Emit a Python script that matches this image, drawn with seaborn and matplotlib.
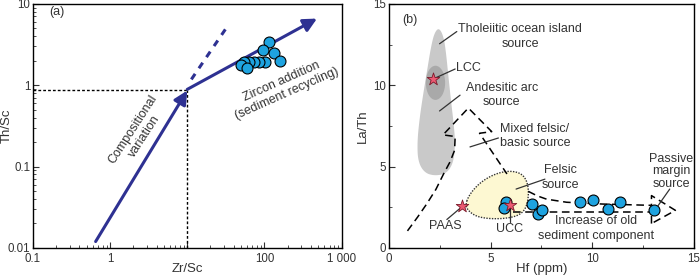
import numpy as np
import pandas as pd
import matplotlib
matplotlib.use('Agg')
import matplotlib.pyplot as plt
from matplotlib.patches import Polygon, Ellipse
from matplotlib.ticker import MultipleLocator, FixedLocator, FixedFormatter, LogLocator, NullFormatter
import seaborn as sns

# ---- panel (a): Th/Sc vs Zr/Sc ----
zr_sc = [114, 95, 132, 157, 103, 86, 74, 64, 55, 49, 59]
th_sc = [3.41, 2.72, 2.52, 1.97, 1.95, 1.95, 1.95, 1.95, 1.95, 1.76, 1.65]

comp_arrow_x = [0.65, 10.0]
comp_arrow_y = [0.012, 0.86]
zircon_arrow_x = [10.0, 480]
zircon_arrow_y = [0.89, 6.6]
dashed_branch_x = [11.3, 33.6]
dashed_branch_y = [1.18, 5.4]
guide_x = 10.0
guide_y = 0.87

# ---- panel (b): La/Th vs Hf ----
hf = [5.74, 5.66, 7.02, 7.31, 7.51, 9.39, 10.02, 10.79, 11.36, 13.03]
la_th = [2.83, 2.47, 2.71, 2.11, 2.35, 2.81, 2.96, 2.37, 2.83, 2.35]

ref_names = ['LCC', 'UCC', 'PAAS']
ref_hf = [2.15, 5.95, 3.61]
ref_la_th = [10.4, 2.67, 2.55]

# field outlines
tholeiitic_x = [2.45, 2.68, 2.8, 2.92, 3.05, 3.18, 3.25, 3.18, 2.85, 2.3, 1.75, 1.42, 1.38, 1.5, 1.68, 1.88, 2.05, 2.22]
tholeiitic_y = [13.55, 13.0, 12.0, 10.5, 9.0, 7.6, 6.5, 5.3, 4.6, 4.43, 4.6, 5.3, 6.5, 8.0, 9.5, 11.0, 12.3, 13.2]
lcc_field = (2.28, 10.15, 0.95, 2.1)  # centre x, centre y, width, height

felsic_x = [3.72, 3.95, 4.5, 5.2, 5.9, 6.5, 6.8, 6.88, 6.75, 6.4, 5.7, 4.8, 4.15]
felsic_y = [2.55, 3.3, 4.05, 4.55, 4.75, 4.6, 4.1, 3.3, 2.45, 2.0, 1.8, 1.8, 2.0]

mixed_x = [0.9, 1.4, 1.85, 2.3, 2.67, 3.0, 3.22, 3.25, 2.65, 3.9, 5.05, 4.45, 5.8]
mixed_y = [1.05, 1.9, 2.71, 3.6, 4.53, 5.3, 6.0, 6.85, 6.95, 8.6, 7.15, 7.05, 4.55]

upper_trend_x = [6.85, 7.3, 7.75, 8.74, 10.5, 12.92]
upper_trend_y = [3.48, 3.2, 3.0, 2.81, 2.7, 2.62]
lower_trend_x = [6.1, 12.92]
lower_trend_y = [2.2, 2.2]
passive_x = [12.92, 12.92, 14.1, 12.92]
passive_y = [1.5, 3.22, 2.31, 1.5]


def chaikin(xs, ys, n=3, closed=True):
    pts = np.column_stack([xs, ys]).astype(float)
    for _ in range(n):
        nxt = np.roll(pts, -1, axis=0) if closed else pts[1:]
        cur = pts if closed else pts[:-1]
        q = 0.75 * cur + 0.25 * nxt
        r = 0.25 * cur + 0.75 * nxt
        pts = np.empty((2 * len(q), 2))
        pts[0::2], pts[1::2] = q, r
    return pts


def main():
    sns.set_style('ticks')
    plt.rcParams['font.family'] = ['Liberation Sans', 'DejaVu Sans']
    plt.rcParams['font.size'] = 9
    plt.rcParams['text.color'] = '#333333'
    plt.rcParams['axes.labelcolor'] = '#333333'
    plt.rcParams['xtick.color'] = '#333333'
    plt.rcParams['ytick.color'] = '#333333'

    fig = plt.figure(figsize=(7.0, 2.78), dpi=100)
    ax1 = fig.add_axes([0.047, 0.108, 0.441, 0.878])
    ax2 = fig.add_axes([0.556, 0.108, 0.435, 0.878])

    navy = '#2e3192'
    dot_blue = '#1ea3e0'
    star_red = '#ec5a72'

    # ---------- panel (a) ----------
    ax1.set_xscale('log')
    ax1.set_yscale('log')
    ax1.set_xlim(0.1, 1000)
    ax1.set_ylim(0.01, 10)

    ax1.plot([0.1, guide_x], [guide_y, guide_y], ls=(0, (2, 1.5)), color='black', lw=1)
    ax1.plot([guide_x, guide_x], [0.01, guide_y], ls=(0, (2, 1.5)), color='black', lw=1)
    ax1.plot(dashed_branch_x, dashed_branch_y, ls=(0, (2.2, 2.2)), color=navy, lw=2.2)
    for xs, ys in [(comp_arrow_x, comp_arrow_y), (zircon_arrow_x, zircon_arrow_y)]:
        ax1.annotate('', xy=(xs[1], ys[1]), xytext=(xs[0], ys[0]),
                     arrowprops=dict(arrowstyle='-|>', color=navy, lw=2.2,
                                     mutation_scale=20, shrinkA=0, shrinkB=0))

    df_a = pd.DataFrame({'Zr/Sc': zr_sc, 'Th/Sc': th_sc})
    sns.scatterplot(data=df_a, x='Zr/Sc', y='Th/Sc', ax=ax1, s=62, color=dot_blue,
                    edgecolor='black', linewidth=0.8, zorder=5)

    ax1.text(0.165, 7.3, '(a)')
    ax1.text(2.35, 0.26, 'Compositional\nvariation', rotation=57, ha='center', va='center',
             linespacing=1.1)
    ax1.text(180, 0.93, 'Zircon addition\n(sediment recycling)', rotation=24, ha='center',
             va='center', linespacing=1.1)

    ax1.xaxis.set_major_locator(FixedLocator([0.1, 1, 10, 100, 1000]))
    ax1.xaxis.set_major_formatter(FixedFormatter(['0.1', '1', '', '100', '1 000']))
    ax1.xaxis.set_minor_locator(LogLocator(base=10, subs=np.arange(2, 10)))
    ax1.xaxis.set_minor_formatter(NullFormatter())
    ax1.yaxis.set_major_locator(FixedLocator([0.01, 0.1, 1, 10]))
    ax1.yaxis.set_major_formatter(FixedFormatter(['0.01', '0.1', '1', '10']))
    ax1.yaxis.set_minor_locator(LogLocator(base=10, subs=np.arange(2, 10)))
    ax1.yaxis.set_minor_formatter(NullFormatter())
    ax1.set_xlabel('Zr/Sc', fontsize=9.5)
    ax1.set_ylabel('Th/Sc', fontsize=9.5)
    ax1.xaxis.set_label_coords(0.5, -0.063)
    ax1.yaxis.set_label_coords(-0.066, 0.5)

    # ---------- panel (b) ----------
    ax2.set_xlim(0, 15)
    ax2.set_ylim(0, 15)

    ax2.add_patch(Polygon(chaikin(tholeiitic_x, tholeiitic_y), closed=True,
                          facecolor='#c9c9c9', edgecolor='none', zorder=1))
    cx, cy, w, h = lcc_field
    ax2.add_patch(Ellipse((cx, cy), w, h, facecolor='#a9a9a9', edgecolor='none', zorder=1.5))
    ax2.add_patch(Polygon(chaikin(felsic_x, felsic_y), closed=True, facecolor='#fdf8d2',
                          edgecolor='#333333', ls=(0, (1, 1)), lw=1, zorder=1))

    dash = (0, (5, 3))
    ax2.plot(mixed_x, mixed_y, color='black', ls=dash, lw=1.1, zorder=2)
    ax2.plot(upper_trend_x, upper_trend_y, color='black', ls=dash, lw=1.1, zorder=2)
    ax2.plot(lower_trend_x, lower_trend_y, color='black', ls=dash, lw=1.1, zorder=2)
    ax2.plot(passive_x, passive_y, color='black', ls=dash, lw=1.1, zorder=2)

    df_b = pd.DataFrame({'Hf (ppm)': hf, 'La/Th': la_th})
    sns.scatterplot(data=df_b, x='Hf (ppm)', y='La/Th', ax=ax2, s=62, color=dot_blue,
                    edgecolor='black', linewidth=0.8, zorder=5)
    df_ref = pd.DataFrame({'name': ref_names, 'Hf (ppm)': ref_hf, 'La/Th': ref_la_th})
    sns.scatterplot(data=df_ref, x='Hf (ppm)', y='La/Th', ax=ax2, s=90, marker='*',
                    color=star_red, edgecolor='#7a1a2a', linewidth=0.6, zorder=6)

    # labels with leader lines
    leaders = [
        ((3.33, 13.3), (2.48, 12.55)),
        ((3.25, 11.0), (2.26, 10.44)),
        ((3.49, 9.39), (2.48, 8.42)),
        ((5.38, 6.76), (3.98, 6.21)),
        ((7.67, 4.23), (6.25, 3.62)),
        ((13.82, 3.62), (13.25, 2.61)),
        ((2.84, 1.75), (3.55, 2.5)),
        ((5.95, 1.6), (5.95, 2.6)),
    ]
    for (x0, y0), (x1, y1) in leaders:
        ax2.plot([x0, x1], [y0, y1], color='#333333', lw=0.9, zorder=4)

    ax2.text(0.65, 13.8, '(b)')
    ax2.text(6.45, 13.0, 'Tholeiitic ocean island\nsource', ha='center', va='center',
             linespacing=1.25)
    ax2.text(3.3, 11.05, 'LCC', ha='left', va='center')
    ax2.text(5.55, 9.4, 'Andesitic arc\nsource', ha='center', va='center', linespacing=1.25)
    ax2.text(5.45, 6.9, 'Mixed felsic/\nbasic source', ha='left', va='center', linespacing=1.25)
    ax2.text(8.45, 4.33, 'Felsic\nsource', ha='center', va='center', linespacing=1.25)
    ax2.text(13.9, 4.7, 'Passive\nmargin\nsource', ha='center', va='center', linespacing=1.1)
    ax2.text(2.75, 1.35, 'PAAS', ha='center', va='center')
    ax2.text(5.95, 1.15, 'UCC', ha='center', va='center')
    ax2.text(10.2, 1.2, 'Increase of old\nsediment component', ha='center', va='center',
             linespacing=1.25)

    ax2.xaxis.set_major_locator(MultipleLocator(5))
    ax2.xaxis.set_minor_locator(MultipleLocator(2.5))
    ax2.yaxis.set_major_locator(MultipleLocator(5))
    ax2.yaxis.set_minor_locator(MultipleLocator(2.5))
    ax2.set_xlabel('Hf (ppm)', fontsize=9.5)
    ax2.set_ylabel('La/Th', fontsize=9.5)
    ax2.xaxis.set_label_coords(0.5, -0.063)
    ax2.yaxis.set_label_coords(-0.068, 0.5)

    for ax in (ax1, ax2):
        ax.tick_params(which='major', direction='in', length=4, width=0.8, pad=2,
                       top=False, right=False, labelsize=8.3)
        ax.tick_params(which='minor', direction='in', length=2, width=0.6,
                       top=False, right=False)
        ax.tick_params(axis='x', which='major', pad=3.5)
        for sp in ax.spines.values():
            sp.set_visible(True)
            sp.set_linewidth(1.0)
            sp.set_color('black')

    fig.savefig('out.png', dpi=100)


if __name__ == '__main__':
    main()
